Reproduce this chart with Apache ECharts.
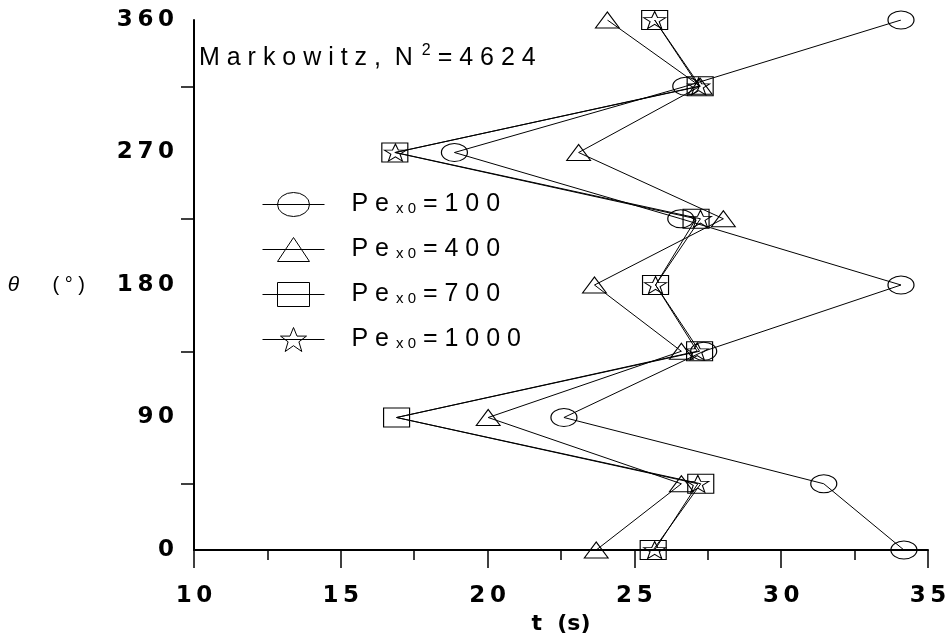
<!DOCTYPE html>
<html>
<head>
<meta charset="utf-8">
<script src="https://cdn.jsdelivr.net/npm/echarts@6/dist/echarts.min.js"></script>
<style>html,body{margin:0;padding:0;background:#fff}#c{width:951px;height:643px}</style>
</head>
<body>
<div id="c"></div>
<script>
// ---- data ----
const thetas = [0, 45, 90, 135, 180, 225, 270, 315, 360];
const pe100  = [34.18, 31.45, 22.60, 27.36, 34.08, 26.58, 18.87, 26.75, 34.08];
const pe400  = [23.70, 26.60, 20.02, 26.60, 23.64, 28.03, 23.10, 27.24, 24.08];
const pe700  = [25.64, 27.26, 16.90, 27.22, 25.72, 27.10, 16.84, 27.24, 25.69];
const pe1000 = [25.69, 27.16, 16.90, 27.14, 25.72, 27.25, 16.86, 27.19, 25.69];
const hiddenStarTheta = 90; // no visible marker at this point
const peValues = ['100', '400', '700', '1000'];
const xTicks = [10, 15, 20, 25, 30, 35];
const yTicks = [0, 90, 180, 270, 360];

const STAR = 'path://M31,0L34.5,8.6L44,8.6L36.4,14.3L39.3,24L31,18.2L22.7,24L25.6,14.3L18,8.6L27.5,8.6Z';
const symbols = ['circle', 'triangle', 'rect', STAR];
const sizes = [[26, 18], [24, 16], [26, 19], [22, 17]];
const legendIcons = [
  'path://M0,12L62,12M47,12A16,12,0,1,1,15,12A16,12,0,1,1,47,12Z',
  'path://M0,12L62,12M31,0L47,24L15,24Z',
  'path://M0,12L62,12M15,0L47,0L47,24L15,24Z',
  'path://M0,12L62,12M31,0L34.5,8.6L44,8.6L36.4,14.3L39.3,24L31,18.2L22.7,24L25.6,14.3L18,8.6L27.5,8.6Z'
];
const allSeries = [pe100, pe400, pe700, pe1000];

const spaced = s => String(s).split('').join('\u2009');
const wide = s => String(s).split('').join(' ');

const series = allSeries.map((vals, i) => ({
  name: 'Pe x0=' + peValues[i],
  type: 'line',
  symbol: symbols[i],
  symbolSize: sizes[i],
  showAllSymbol: true,
  lineStyle: { color: '#000', width: 1 },
  itemStyle: { color: 'rgba(0,0,0,0)', borderColor: '#000', borderWidth: 1 },
  emphasis: { disabled: true },
  z: 2 + i,
  data: vals.map((t, k) => {
    if (i === 3 && thetas[k] === hiddenStarTheta) return { value: [t, thetas[k]], symbol: 'none' };
    return [t, thetas[k]];
  })
}));

const chart = echarts.init(document.getElementById('c'), null, { renderer: 'canvas' });
chart.setOption({
  animation: false,
  backgroundColor: '#fff',
  title: {
    text: '{a|' + wide('Markowitz,') + '  N }{s|2}{a| ' + wide('=4624') + '}',
    left: 199, top: 43, padding: 0,
    textStyle: {
      fontWeight: 'normal',
      rich: {
        a: { fontFamily: 'Liberation Sans', fontWeight: 'normal', fontSize: 25, color: '#000', lineHeight: 30 },
        s: { fontFamily: 'Liberation Sans', fontWeight: 'normal', fontSize: 16, color: '#000', lineHeight: 30, verticalAlign: 'top', padding: [0, 0, 0, 2] }
      }
    }
  },
  legend: {
    orient: 'vertical',
    left: 262, top: 192, padding: 0,
    itemWidth: 62, itemHeight: 24, itemGap: 20,
    selectedMode: false,
    itemStyle: { color: 'rgba(0,0,0,0)', borderColor: '#000', borderWidth: 1 },
    data: series.map((s, i) => ({ name: s.name, icon: legendIcons[i] })),
    formatter: name => {
      const v = name.split('=')[1];
      return '{w|}{a|P e }{b|x 0}{a| ' + wide('=' + v) + '}';
    },
    textStyle: {
      color: '#000',
      rich: {
        w: { width: 22, lineHeight: 24 },
        a: { fontFamily: 'Liberation Sans', fontSize: 25, color: '#000', lineHeight: 24 },
        b: { fontFamily: 'Liberation Sans', fontSize: 15, color: '#000', lineHeight: 24, verticalAlign: 'bottom' }
      }
    }
  },
  grid: { left: 194, right: 23, top: 20, bottom: 93, containLabel: false },
  xAxis: {
    type: 'value', min: xTicks[0], max: xTicks[xTicks.length - 1], interval: 5,
    name: 't  (s)', nameLocation: 'middle', nameGap: 62,
    nameTextStyle: { fontFamily: 'DejaVu Sans', fontWeight: 'bold', fontSize: 22, color: '#000' },
    axisLine: { onZero: false, lineStyle: { color: '#000', width: 2 } },
    axisTick: { show: true, length: 18, lineStyle: { color: '#000', width: 1.5 } },
    minorTick: { show: true, splitNumber: 2, length: 10, lineStyle: { color: '#000', width: 1.5 } },
    splitLine: { show: false },
    axisLabel: { margin: 35, fontFamily: 'DejaVu Sans', fontWeight: 'bold', fontSize: 23, color: '#000', formatter: v => spaced(v) }
  },
  yAxis: {
    type: 'value', min: yTicks[0], max: yTicks[yTicks.length - 1], interval: 90,
    name: '{t|θ}{p|      ( ° )}', nameLocation: 'middle', nameGap: 109, nameRotate: 0,
    nameTextStyle: {
      rich: {
        t: { fontFamily: 'Liberation Sans', fontStyle: 'italic', fontSize: 21, color: '#000' },
        p: { fontFamily: 'Liberation Sans', fontSize: 20, color: '#000' }
      }
    },
    axisLine: { onZero: false, lineStyle: { color: '#000', width: 2 } },
    axisTick: { show: false },
    minorTick: { show: true, splitNumber: 2, length: 13, lineStyle: { color: '#000', width: 1.5 } },
    splitLine: { show: false },
    axisLabel: { margin: 20, fontFamily: 'DejaVu Sans', fontWeight: 'bold', fontSize: 23, color: '#000', formatter: v => spaced(v) }
  },
  series: series
});
</script>
</body>
</html>
